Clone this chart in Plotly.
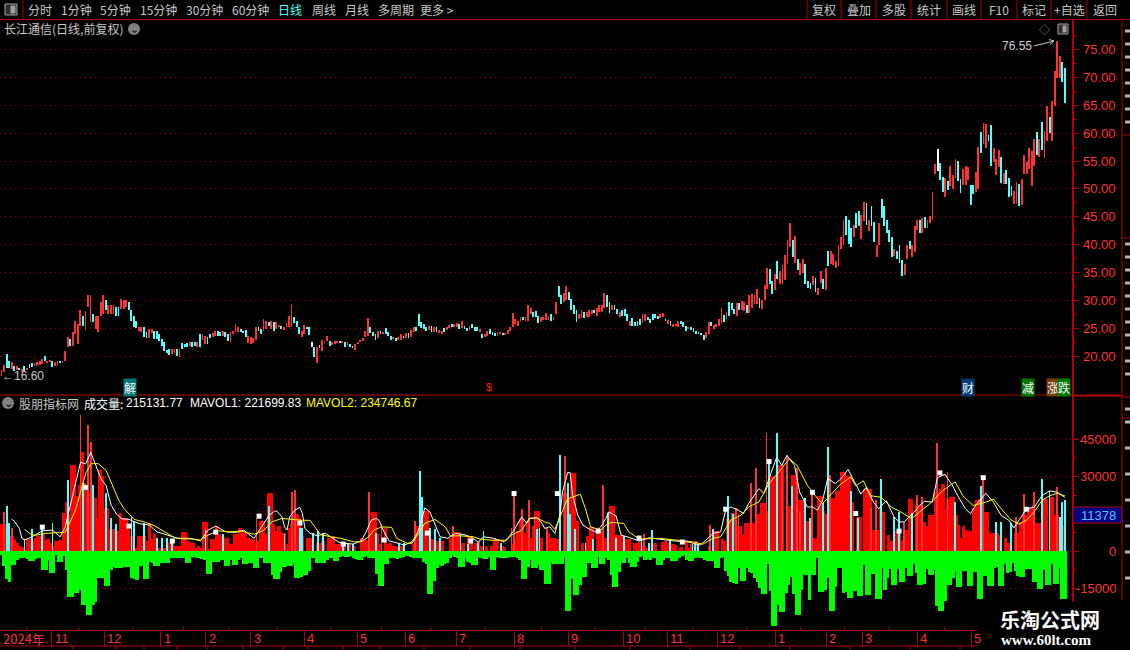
import numpy as np
import plotly.graph_objects as go

W, H = 1130, 650
RED = "#b00000"
GRID = "#a80000"
TICK_RED = "#ff3232"
CYAN = "#54ffff"
UP = "#ff3232"
CJK = "Noto Sans CJK SC"
LATIN = "Liberation Sans"
THIN = 0.33

# daily bars, low / high of each bar, u = up, d = down, f = flat
price_low = [
    16.6,17.2,18.0,18.0,17.8,17.4,17.7,17.6,17.3,17.4,
    17.6,18.0,18.2,18.3,18.4,18.6,18.8,19.2,18.9,19.1,
    18.2,18.3,18.6,18.9,19.0,19.3,21.7,22.0,22.0,24.1,
    22.3,25.5,25.6,24.8,28.9,26.2,26.2,25.0,24.4,27.4,
    27.7,28.3,27.7,27.7,27.6,27.4,27.4,28.6,28.6,28.9,
    28.3,26.4,25.3,25.1,24.6,24.4,23.5,23.4,23.4,24.2,
    23.2,23.2,22.9,22.0,21.0,20.7,20.4,20.5,20.7,20.1,
    20.0,21.4,21.7,21.8,22.0,21.8,22.0,21.8,21.8,23.0,
    22.3,22.3,23.4,23.6,23.8,23.8,23.8,23.8,23.6,22.9,
    22.7,24.1,24.4,24.4,24.4,24.2,23.5,22.4,22.3,22.4,
    23.0,24.7,24.1,24.7,25.0,25.6,25.0,24.7,25.0,
    25.4,24.9,24.8,25.3,25.3,25.3,26.0,25.3,24.0,23.6,
    24.1,24.9,23.9,21.7,19.9,18.9,21.6,21.1,22.4,22.8,
    22.0,22.2,22.3,22.6,22.4,22.6,21.8,22.0,21.8,21.5,
    21.3,22.3,22.6,22.8,23.5,23.8,24.2,23.8,23.1,23.3,
    24.0,24.0,24.1,23.8,23.1,23.2,22.9,23.1,23.1,23.3,
    23.4,23.3,23.6,24.4,24.7,25.6,25.2,25.0,24.6,24.8,
    24.5,24.4,24.5,24.2,24.0,24.5,24.8,25.2,25.4,25.4,
    25.4,24.9,25.1,25.0,24.7,24.8,25.2,24.7,24.7,24.5,
    23.4,23.5,23.7,24.0,23.9,23.8,23.8,24.0,24.0,24.0,
    24.1,24.7,25.3,25.8,25.6,26.5,26.6,26.4,26.5,27.7,
    27.1,27.1,26.0,26.2,26.6,26.6,26.6,26.5,26.6,27.6,
    30.8,29.5,29.8,30.1,30.1,28.3,27.7,26.2,26.7,27.0,
    27.0,27.1,27.1,27.7,27.9,27.4,28.0,28.0,28.8,29.0,
    27.8,28.3,28.4,27.7,27.1,27.4,27.4,26.5,25.5,25.6,
    25.6,25.6,25.7,26.0,26.5,26.6,26.0,26.6,27.0,26.8,
    26.9,27.2,26.4,25.9,25.5,25.4,25.5,25.4,25.8,25.4,
    24.7,24.9,24.8,24.4,24.1,24.0,24.0,23.1,23.3,24.1,
    25.6,25.0,25.3,25.6,
    26.1,26.2,26.7,27.4,28.3,27.6,27.3,28.4,28.3,28.2,
    27.8,27.8,28.8,29.4,29.4,28.7,28.5,30.1,32.2,33.0,
    31.3,31.9,33.9,33.0,33.1,33.7,36.6,39.6,37.8,36.9,
    35.5,34.6,35.1,33.0,32.4,32.2,32.8,31.7,31.0,33.3,
    32.2,31.9,36.2,36.6,36.4,36.0,36.2,39.4,40.1,41.8,
    40.3,39.6,41.4,43.0,43.4,41.2,44.3,43.6,42.5,43.4,
    40.5,37.8,40.1,44.8,43.4,42.1,40.5,37.8,38.0,37.6,
    36.9,34.4,34.6,37.5,39.3,37.8,38.7,42.7,42.1,42.1,
    43.0,43.0,43.9,44.5,52.7,53.3,51.6,49.5,48.6,49.9,
    50.6,50.0,52.0,51.5,49.3,50.7,50.7,51.6,47.2,49.1,
    49.5,50.1,56.5,58.1,57.4,58.7,54.2,54.9,52.5,54.0,
    51.1,50.9,50.9,48.6,48.8,47.3,47.3,47.0,47.2,52.7,
    52.7,53.6,50.6,54.2,56.1,55.8,57.0,55.6,58.7,60.1,
    58.7,65.0,70.0,70.0,69.3,65.5,
]
price_high = [
    17.6,18.6,20.5,19.3,19.0,18.3,18.3,18.0,17.8,18.3,
    18.0,18.8,18.9,18.9,19.1,19.3,19.6,20.2,19.3,19.5,
    19.3,19.0,19.2,19.2,19.3,21.1,23.5,23.2,24.5,26.4,
    25.9,28.4,27.4,28.2,31.1,31.0,27.7,27.4,27.4,29.9,
    31.1,30.1,29.2,29.2,29.3,29.0,28.9,30.4,30.2,30.1,
    29.9,28.4,27.4,26.5,25.3,25.4,25.3,24.4,25.0,25.0,
    24.7,24.6,24.1,23.2,22.6,21.3,21.4,21.4,21.4,21.4,
    21.4,22.4,22.3,22.4,22.6,22.6,22.6,22.6,24.0,24.1,
    23.8,23.5,24.1,24.2,24.7,24.6,24.4,24.6,24.4,24.1,
    24.4,24.7,25.9,25.3,25.0,24.7,24.8,23.8,23.5,23.4,
    25.3,25.3,25.0,26.8,26.4,26.2,26.5,26.2,26.2,
    25.7,25.5,25.4,26.1,27.4,29.2,27.2,26.5,25.3,24.6,
    25.7,25.4,25.4,22.7,21.8,21.8,22.2,23.1,22.9,23.8,
    22.9,22.7,22.9,22.9,22.8,22.9,22.7,22.7,22.3,22.0,
    22.3,22.7,23.0,23.3,24.7,26.9,25.3,24.5,24.0,24.7,
    24.7,24.5,25.1,24.5,23.8,23.6,23.4,23.5,24.0,23.8,
    24.2,24.2,24.8,25.4,25.4,27.6,26.2,25.8,25.3,25.6,
    25.6,25.3,25.4,24.8,24.7,25.2,25.3,25.7,25.9,25.8,
    26.0,25.8,26.5,25.6,25.2,25.6,25.8,25.3,25.3,24.9,
    24.1,24.0,24.7,24.9,24.4,24.3,24.5,24.5,24.3,24.3,
    24.8,25.4,27.8,26.7,26.4,27.2,27.1,27.1,29.3,28.7,
    28.1,28.2,27.4,27.2,27.2,27.8,27.4,27.6,27.1,29.8,
    32.6,31.1,31.4,32.7,31.7,30.4,29.2,28.4,27.6,28.4,
    28.0,28.0,28.3,28.4,28.3,28.8,29.3,29.3,31.4,31.0,
    29.8,29.2,29.3,28.6,28.0,28.3,28.5,27.6,26.5,27.0,
    26.2,26.4,26.8,27.6,27.6,27.1,26.8,27.7,27.6,27.4,
    27.7,27.8,26.8,26.6,26.5,25.9,25.9,26.4,26.5,26.2,
    25.6,25.4,25.3,25.1,24.6,24.5,24.3,23.9,24.5,26.2,
    26.3,25.7,25.9,26.7,
    28.8,27.5,28.1,29.9,29.6,28.5,29.6,29.6,30.0,29.9,
    29.2,31.0,31.2,31.0,32.2,30.6,30.1,32.8,36.0,35.7,
    33.5,34.8,37.1,35.3,36.4,38.2,40.9,43.9,41.0,41.6,
    37.5,36.9,37.5,36.7,33.5,33.3,34.4,34.2,32.4,35.3,
    33.9,36.0,38.9,38.9,38.4,37.1,40.1,41.4,44.6,45.2,
    44.6,43.0,43.7,45.7,46.1,45.4,47.7,47.5,44.5,47.0,
    44.1,40.0,43.9,48.2,47.0,44.5,42.8,41.4,39.4,38.9,
    40.0,37.3,36.7,40.1,40.7,40.0,43.4,44.5,44.6,44.8,
    45.0,44.6,45.2,49.5,54.5,57.2,54.7,52.2,52.0,51.5,
    54.2,52.5,55.4,55.1,51.8,53.6,54.2,54.0,50.7,50.7,
    53.1,57.6,60.3,61.9,61.7,59.7,61.5,57.4,55.4,57.0,
    55.8,52.9,53.4,52.0,50.6,49.7,51.3,50.9,51.8,56.1,
    55.0,57.4,56.9,59.0,60.3,59.0,62.0,60.4,65.0,63.0,
    65.8,71.3,76.55,73.9,72.8,71.8,
]
bar_dir = (
    "uuddududud" "udduuuuduu" "duuduuuduu" "uuduuuduuu" "uduuudduuu"
    "dddduudduu" "ddddddduud" "uddduddudu" "udduuddudd" "uuuuddduuu"
    "udduududu"
    "uduuuudddu" "uddfduduuu" "duuudududd" "uuuuuudddu" "duddduduud"
    "uduudddddu" "duduuduudu" "ududdudddu" "duuddduudu" "uuuuuuduuu"
    "ddduuuuduu" "dduudddduu" "duuuduuuud" "duddudddud" "ddduuddddd"
    "uududuuudd" "dudddddduu" "duuu"
    "ududdduduu" "duuuuduuud" "duduuuuudu" "duuddduduu" "duduuuuuud"
    "ddudduudud" "duudddddud" "dduuduuudu" "duuuufddud"
    "uuudduuudd" "uuduudduuu" "duddduuduu" "uuuududuud" "uuuudd"
)

# volume panel, thousands of lots: thick red body, per bar
vol_body = [
    10.7,10.7,6,6,6,4.7,3.3,2,1.6,0.7,4.7,4.7,4,5.3,6,6,6.7,4.3,4.7,3.3,2,4,4,4.3,15.3,
    19.7,14.7,34.4,34.4,22,26.7,40,27.3,25.3,23.3,26.7,21.3,13.3,32.7,30,16.7,17.3,8.7,8.7,8.7,8,15.3,13.3,13.3,8.7,
    6,1.3,1.3,6,6,6,4,11.3,4.7,6.7,1.3,1.3,1.3,1.3,0.7,3.3,2.7,2,2,2,7.7,7.7,4,3.3,3.3,
    1.1,2,1.3,11.7,11.7,0.7,4.7,4.7,10,6.7,6,5.3,5.3,2.7,2.7,6.7,6.7,9.3,7.3,7.3,5.3,4.7,4.7,3.3,4,
    12,12,6.7,23.3,23.3,10.7,8,10,7.3,
    7.3,2.7,9.3,10.7,14.7,14.7,13.3,6,0,5.1,5.3,4,0,3.3,3.3,4,0,5.3,5.3,6,2.7,2.7,3.3,3.3,0,
    2.7,0,2,0,0,5.1,4.7,4,10.7,15.7,15.7,6.7,2.7,0,9.3,2.7,3.3,2,2,1.6,2,0,0,0,0,
    2.9,10,10,8,16,16,0,4.7,4.7,4,0,4,0,0,5.3,5.3,7.7,7.7,3.3,3.3,0,6,6,0,3.3,
    4,2,0,2,0,2,5.3,4.7,0,2,1.6,0,0,2.7,4.7,8,12.9,12.9,7.3,10.7,5.3,10,16,16,5.3,
    0,0,7.3,5.3,5.1,4.9,4.7,0,23.3,23.3,
    21.3,31.3,31.3,12,0,3.3,0,6,9.6,9.6,0,8,8,0,5.3,5.3,18,18,6.4,6.4,6.4,2.7,4.7,4.7,0,
    3.3,3.3,3.7,2,2,1.3,0,3.3,3.3,0,0,3.7,4,3.3,2.7,2.7,2.4,0,1.6,0,4,1.3,2.7,0,4,
    0,0,0,0,2,0,8,8,0,4.7,4,12.7,12.7,15.3,15.3,10,10,6.7,11.3,11.3,11.3,11.3,14.7,14.7,19.3,
    19.3,16,12.7,30,30,30,34.7,34.7,0,18,18,30.7,30.7,20.7,20.7,20.7,12,12,12,5.3,4.7,22,22,16,14.7,
    19.3,21.3,21.3,24,24,31.6,31.6,
    30.3,30.3,19.7,0,13.8,13.8,0,25,25,25,8.6,8.6,8.6,17.1,15.8,0,6.6,3.9,3.7,7.9,7.9,3.9,4.6,8.6,21.1,
    21.1,0,18.4,18.4,11.8,11.8,9.9,14.5,14.5,23.7,23.7,25,27,16.4,21.1,21.7,21.7,14.5,10.5,5.3,9.9,8.6,7.9,7.9,17.1,
    20.4,21.1,15.8,15.8,15.8,7.2,7.2,7.2,7.2,6.6,0,5.3,3.3,3.3,0,7.2,7.2,11.8,14.5,14.5,15.8,17.1,18.4,11.2,11.2,
    0,21.1,21.1,0,21.7,14.5,14.5,0,10.5,0,
]
# negative green blocks, per bar
vol_neg = [
    1.6,6,11.3,12.3,5.6,5.6,3.6,2.9,2.9,2.9,3.3,3.9,3.9,3.2,2.9,2.9,7.6,7.6,3.6,8.7,8.7,1.6,4.3,4.3,1.9,
    7.6,18.3,18.3,16.9,16.9,15.6,21.9,21.9,25.6,25.6,21.9,20.3,10.9,10.9,10.7,14,14,7.6,6.3,6.9,6.9,6.9,6.5,6.5,6.3,
    10.9,11.3,11.6,5.9,5.9,11.2,11.2,4.3,4.9,5.9,5.9,4.9,4.9,4.9,4.9,2.9,2.9,2.9,2.9,2.9,2.9,4.7,4.7,2.5,2.3,
    2.9,2.9,3.2,3.6,9.2,9.2,4.3,4.3,4.3,3.6,3.6,5.9,5.9,3.6,5.6,5.6,3.6,2.9,5.2,5.2,4.7,4.7,6.7,6.7,2.9,
    2.9,4.7,4.7,4.7,9.6,11.2,11.2,8.3,6.3,6.3,
    6,6,4.9,10.7,10.7,10.3,9.6,9.6,8,2.9,2.9,4.7,4.7,4.7,4.7,3.6,2.9,2.9,3.9,3.9,2.3,1.9,2.3,2.3,1.9,
    2.9,3.2,3.6,3.6,2.3,1.9,2.7,2.9,2.9,9.2,13.9,13.9,5.2,5.2,2.9,2.9,2.9,3.2,2.9,2.5,2,2,2.3,2.7,2.7,
    2.9,2.9,4.3,5.2,17.2,17.2,12,6.9,5.6,5.9,5.2,4.9,2.9,1.6,2.5,2.9,6.3,6.3,2.9,4.3,4.9,5.6,5.6,2.3,2.9,
    3.2,3.2,2.5,7.6,7.6,2.3,2.9,2.9,2.9,2.9,2.5,2.3,2.5,2.9,3.6,11.2,11.2,6.3,3.6,6.7,6.7,5.6,7.6,7.6,13.2,
    13.2,4.3,5.2,5.2,5.2,5.2,2.9,24.3,
    24.3,11.2,17.6,17.6,13.6,10.3,10.3,4.9,4.9,6.9,6.9,2.5,5.2,5.2,2.9,3.6,9.6,14.3,14.3,8.3,4.9,4.9,2.9,4.7,6.3,
    6.3,4.3,2.3,2,3.6,3.2,3.6,2.9,2.9,5.6,5.6,3.6,2.9,2.9,4,4,4,2.9,2,1.6,3.6,3.9,3.9,2.9,2.5,
    2.9,2.9,3.6,3.9,3.9,3.9,6.9,6.9,2.9,2.5,8,10,12.5,12.9,13.2,6.9,12,12,6.9,8.3,8.7,10.9,12.3,14.9,17.2,
    17.2,5.2,15.9,30.3,30.3,21.9,24.7,24.7,16.9,13.6,10.3,17.2,25.6,25.6,15.6,9.6,9.6,19.6,9.6,9.6,2.9,16.3,16.3,15.6,10.9,
    24.3,24.3,14.3,6.9,6.9,16.9,
    16.3,18.8,18.8,16,16,17.9,17.9,5.7,17.6,17.6,9.3,9.3,19.2,19.2,6.7,15.5,11,7.4,13.7,13.7,7.4,12.6,12.6,6.7,10,
    10,5.4,8.9,13.6,13.6,13.3,7.1,9.6,9.6,7.6,22.2,24.2,24.2,19.9,13.6,13.6,10.7,8,14.3,14.3,8,8,14.2,14.2,8.4,
    8.4,19.2,19.2,10,10,14.2,14.2,6.7,6.3,14.2,14.2,5.4,8.7,8.4,5,8,10,10.4,10.4,7.4,7.4,7.4,12.6,12.6,15.3,
    15.3,7.6,13.7,13.7,5.4,13.3,13.3,7,19.2,19.2,
]
# thin volume lines: only where they stand above the body
cyan_bar = [2,3,9,12,16,20,26,32,36,41,43,45,51,52,56,61,63,65,67,80,87,105,
            111,117,118,122,124,126,134,136,138,147,156,158,164,165,168,170,172,180,183,187,189,196,210,211,219,
            222,223,225,229,232,238,241,244,251,254,255,262,271,272,273,279,285,287,301,304,310,315,317,322,324,
            333,336,345,350,352,357,374,384,390,392,396,408,411,415,416,417]
cyan_vol = [18,11.3,4.7,8.7,9.3,11.3,28.7,27.3,26.7,23.3,13.3,11,14,12,11.3,5.3,5.3,5.3,4.7,8.3,6.7,18,
            6.7,9.3,9.3,7.3,8,7.3,2.9,2.7,2.7,7.3,3.3,3.3,32,21.7,9.3,8.7,5.3,6.7,2.7,3.3,8,3.3,8.7,9.3,38.4,
            27.3,14.7,8.7,3.3,4.7,15.3,5.3,6,5.3,3.3,8.3,4.7,2.7,2.7,2.7,8.7,22,14.7,35.3,47.3,26,21.3,13.3,19.3,42,
            24.3,13.2,29,13.8,15.8,15.1,19.7,26.3,11.8,11.8,11.2,29,24.3,13.8,19.7,20.4]
red_bar = [1,4,31,34,35,100,114,115,144,149,162,177,200,201,204,207,209,214,
           221,236,252,278,288,289,294,296,300,306,308,312,313,318,325,
           341,343,354,359,361,367,371,385,398,401,405,414]
red_vol = [15.7,9.3,54.7,50.7,44,13.3,23.7,24.4,23.7,10.7,12,10,9.3,22.7,16.7,20.7,13.3,9.3,
           38,26.7,6.7,10.4,17.3,14.7,27.3,33.3,47.3,32,38.7,33.3,16,23.3,30.7,
           17.1,20.4,11.8,22.4,21.7,43.4,31.6,29.6,13.8,23,23.7,25.7]

ma1_bar = [4,5,7,8,9,12,16,20,23,25,27,29,31,33,35,37,39,41,43,45,47,50,54,58,61,65,69,74,78,81,84,88,92,95,99,102,105,107,108,
           110,111,112,113,115,117,118,119,121,124,127,129,132,134,138,141,143,145,147,148,150,152,155,158,161,163,164,166,168,170,172,
           175,178,181,184,187,189,193,197,199,201,204,206,207,210,212,213,215,217,219,
           220,222,223,224,226,228,230,233,235,237,238,241,243,246,250,254,258,263,269,274,277,279,282,284,286,289,291,293,297,299,301,
           304,306,308,311,313,316,318,320,322,324,327,
           329,332,335,337,339,342,344,347,350,352,354,358,360,362,365,367,370,373,375,378,380,382,386,389,392,395,397,400,402,405,408,411,414,417]
ma1_vol = [12.8,12,9.1,5.1,4.4,5.7,8.1,8.4,5.7,9.7,18.4,27.7,35.7,35,39.7,34.4,29,26.4,18.4,15,13,12.7,11,10.4,7.7,6.4,5.1,5.1,4.1,8.4,10,7.7,7.5,8.4,5.1,9.7,14.4,16,16,
           13.7,9.7,8.4,13.7,16.4,17.5,15.1,9.1,7.1,6.1,7.1,5.7,3.7,3.1,2.8,4,7.7,12.4,13.1,12.4,7.7,4.1,3.1,2.4,3.7,7.1,9.7,17.3,15.7,10.4,5.7,
           5.1,7.1,6.7,5.7,3.5,5.7,5.1,3.7,5.7,8.4,13.7,11.1,13.1,13.5,11.1,9.1,9.7,7.1,14.4,
           23.7,31.5,31.5,22.4,14.4,10.4,9.1,7.7,9.7,13.1,15.7,14.1,6.4,5.5,4,5.3,4.7,4.1,3.7,2.4,5.1,7.1,7.7,16.4,17.7,16.4,15.1,19.1,25.1,23.1,29.1,
           37.7,34.4,38.4,34.4,23.7,17.7,17.7,16.4,20.4,29.1,27.1,
           28.8,32.8,26.8,22.9,25.5,19.6,17,20.3,13.7,11.7,11.7,15.7,18.3,20,19.6,29.5,30.8,26.2,22.2,17,15,18.3,23.2,19.6,14.3,12.4,9.3,13.7,17,17.6,22.2,24.2,23.6,21.6]
ma2_bar = [9,12,14,17,21,25,26,29,31,33,35,38,41,43,46,48,52,56,60,64,68,71,75,78,81,85,89,94,99,103,106,110,
           113,117,121,123,125,129,133,138,141,144,146,149,153,155,159,161,163,166,170,174,176,180,185,188,193,198,200,204,207,210,213,215,217,
           219,222,224,227,229,231,235,237,239,244,246,250,258,265,271,275,279,282,286,290,293,297,301,305,309,312,316,320,322,325,
           329,333,335,338,341,345,349,352,357,360,364,369,374,377,381,386,389,392,396,399,402,405,408,411,414,417]
ma2_vol = [8.7,6.4,6.4,7.1,7.3,7.5,9.7,16.4,23.7,31.1,35.1,35.1,32.4,27.7,20.4,17.1,12.7,11.7,10.1,7.7,5.3,4.9,4.8,4.4,6.4,8.1,7.7,8,6.7,8.4,11.7,13.1,
           12.8,12.4,12.3,9.7,6.7,5.7,5.1,3.7,3.7,5.7,8.4,9.7,9.5,5.1,3.1,3.1,6.4,11.1,12.7,9.7,6.1,6.1,5.7,4.7,4.3,4.3,6.4,8.4,13.1,13.3,11.7,11.1,8.7,
           13.7,21.1,21.7,22.8,17.1,9.7,8.4,10.4,11.5,11.1,7.7,4.8,5.1,4.4,3.7,2.7,5.1,5.7,12.4,14.4,17.7,19.7,27.1,32,37.1,34.4,26.4,21.1,19.1,22.4,
           26.8,29.7,26.2,28.2,22.2,21.6,17.6,16.1,13,15.7,18.9,24.2,27.8,22.2,18.3,19.6,20.9,17,12.4,10.8,12.4,15.7,20.3,22.2,23.2,22.2]
signal_bar = [16,33,50,67,84,101,117,134,150,167,184,201,218,234,250,267,284,301,318,335,352,368,385,402]
signal_vol = [9.6,25.6,10,4,7.6,14,11.2,2.8,4.4,7.2,4,23.1,23.1,8,5.2,3.6,16.8,36,23.6,15.1,8,31.4,29.5,16.8]

month_bar = [-0.4,19.7,40.3,62.4,80,97.7,118.7,139.5,158.4,178.4,201.1,222.3,243.8,261.1,280.7,303.5,323.5,337.6,359.1,380.3]
month_text = ["2024年","11","12","1","2","3","4","5","6","7","8","9","10","11","12","1","2","3","4","5"]
price_ticks = [75,70,65,60,55,50,45,40,35,30,25,20]
vol_ticks = [45000,30000,0,-15000]
vol_grid = [45000,30000,15000,0,-15000]

period_tabs = ["分时","1分钟","5分钟","15分钟","30分钟","60分钟","日线","周线","月线","多周期","更多 >"]
period_tab_x = [40,76,115,158,204,250,290,324,357,396,437]
tool_tabs = ["复权","叠加","多股","统计","画线","F10","标记","+自选","返回"]
tool_tab_x = [824,859,894,929,964,999,1034,1069,1105]
tool_sep_x = [807,841,876,911,947,981,1017,1051,1087]
bottom_tab_x = [73,116,144,177,207,243,283,308,343,380,424,470,520,575,630,690,740,790,850,910,960]
side_rows = [31,44,57,70,83,96,109,122,244,257,270,283,296,309,322,335,348,361,374,409,422,
             448,474,500,526,552,578]


def sx(px):
    return px / W


def sy(py):
    return 1 - py / H


def label(x, y, text, color="#c8c8c8", size=12, anchor="left", font=CJK, bg=None):
    return dict(x=sx(x), y=sy(y), xref="paper", yref="paper", text=text, showarrow=False,
                xanchor=anchor, yanchor="middle", bgcolor=bg, borderpad=0,
                font=dict(family=font, size=size, color=color))


def seg(x0, y0, x1, y1, color=RED, width=1, layer="above"):
    return dict(type="line", xref="paper", yref="paper", x0=sx(x0), y0=sy(y0), x1=sx(x1), y1=sy(y1),
                line=dict(color=color, width=width), layer=layer)


def box(x0, y0, x1, y1, fill="#000000", line=None, width=1):
    return dict(type="rect", xref="paper", yref="paper", x0=sx(x0), y0=sy(y0), x1=sx(x1), y1=sy(y1),
                fillcolor=fill, line=dict(color=line or fill, width=width), layer="above")


last_bar = 417
n = len(price_low)
price_x = np.linspace(0, last_bar, n)
price_low = np.array(price_low)
price_high = np.array(price_high)
bar_colors = [{"u": UP, "d": CYAN, "f": "#ffffff"}[c] for c in bar_dir]
body_x = np.linspace(0, last_bar, len(vol_body))
neg_x = np.linspace(0, last_bar, len(vol_neg))
vol = lambda values: np.array(values) * 1000

fig = go.Figure()
fig.add_trace(go.Bar(x=price_x, base=price_low, y=price_high - price_low, width=THIN,
                     marker=dict(color=bar_colors, line_width=0), xaxis="x", yaxis="y"))
fig.add_trace(go.Bar(x=neg_x, y=-vol(vol_neg), width=1.4, marker=dict(color="#00ff00", line_width=0),
                     xaxis="x2", yaxis="y2"))
fig.add_trace(go.Bar(x=body_x, y=vol(vol_body), width=1.3, marker=dict(color="#ff0000", line_width=0),
                     xaxis="x2", yaxis="y2"))
fig.add_trace(go.Bar(x=red_bar, y=vol(red_vol), width=THIN, marker=dict(color=UP, line_width=0),
                     xaxis="x2", yaxis="y2"))
fig.add_trace(go.Bar(x=cyan_bar, y=vol(cyan_vol), width=THIN, marker=dict(color=CYAN, line_width=0),
                     xaxis="x2", yaxis="y2"))
fig.add_trace(go.Scatter(x=ma1_bar, y=vol(ma1_vol), mode="lines", line=dict(color="#ffffff", width=1),
                         xaxis="x2", yaxis="y2"))
fig.add_trace(go.Scatter(x=ma2_bar, y=vol(ma2_vol), mode="lines", line=dict(color="#ffff00", width=1),
                         xaxis="x2", yaxis="y2"))
fig.add_trace(go.Scatter(x=signal_bar, y=vol(signal_vol), mode="markers",
                         marker=dict(symbol="square", size=5, color="#ffffff", line_width=0),
                         xaxis="x2", yaxis="y2"))

x_range = [-1.5 / 2.55, (1072 - 1.5) / 2.55]
month_mid = (np.array(month_bar[:-1]) + np.array(month_bar[1:])) / 2

annotations = []
for text, x in zip(period_tabs, period_tab_x):
    annotations.append(label(x, 9.5, text, "#54ffff" if text == "日线" else "#c8c8c8", anchor="center"))
for text, x in zip(tool_tabs, tool_tab_x):
    annotations.append(label(x, 9.5, text, anchor="center"))
annotations.append(label(3, 29, "长江通信(日线,前复权)"))
annotations.append(label(134, 29, "⌄", "#000000", 11, "center", LATIN))
annotations.append(label(8, 403, "⌄", "#000000", 11, "center", LATIN))
annotations.append(label(1001, 45.5, "76.55", font=LATIN, size=12))
annotations.append(label(1, 376, "←16.60", font=LATIN, size=12))
annotations.append(label(1044.5, 29, "◇", "#909090", 11, "center"))
annotations.append(label(18, 403, "股朋指标网", size=12))
annotations.append(label(83, 403, "成交量:", "#ffffff", 12))
annotations.append(label(125, 403, "215131.77", "#ffffff", 12, font=LATIN))
annotations.append(label(189, 403, "MAVOL1: 221699.83", "#ffffff", 12, font=LATIN))
annotations.append(label(305, 403, "MAVOL2: 234746.67", "#ffff00", 12, font=LATIN))
annotations.append(label(129.5, 387, "解", "#ffffff", 12, "center", bg="#007878"))
annotations.append(label(489, 387, "$", "#ff2020", 11, "center", LATIN))
annotations.append(label(968, 387, "财", "#ffffff", 12, "center", bg="#003c78"))
annotations.append(label(1027.5, 387, "减", "#ffffff", 12, "center", bg="#007800"))
annotations.append(label(1052.5, 387, "涨", "#ffffff", 12, "center", bg="#783c00"))
annotations.append(label(1063.5, 387, "跌", "#ffffff", 12, "center", bg="#007800"))

for p in price_ticks:
    annotations.append(dict(x=sx(1118), y=p, xref="paper", yref="y", text=f"{p}.00", showarrow=False,
                            xanchor="right", font=dict(family=LATIN, size=13, color=TICK_RED)))
for v in vol_ticks:
    annotations.append(dict(x=sx(1118), y=v, xref="paper", yref="y2", text=str(v), showarrow=False,
                            xanchor="right", font=dict(family=LATIN, size=13, color=TICK_RED)))
annotations.append(label(1098, 515, "11378", "#54c8ff", 13, "center", LATIN))
for x, text in zip(month_bar, month_text):
    annotations.append(dict(x=x, y=sy(638.5), xref="x2", yref="paper", text=text, showarrow=False,
                            xanchor="left", yanchor="middle", xshift=1,
                            font=dict(family=LATIN if "年" not in text else CJK, size=13, color=TICK_RED)))
annotations.append(label(1050, 619, "<b>乐淘公式网</b>", "#ffffff", 20, "center"))
annotations.append(label(1046, 640, "<b>www.60lt.com</b>", "#ffffff", 15, "center", "Liberation Serif"))

shapes = [
    seg(0, 19.5, W, 19.5),
    seg(23, 0, 23, 19.5),
    seg(0, 395, 1072, 395),
    seg(1072, 395.5, 1122, 395.5, width=2),
    seg(1122, 19.5, 1122, 600),
    seg(1122, 135, W, 135),
    seg(1122, 238, W, 238),
    seg(1122, 397, W, 397),
    seg(1122, 418, W, 418),
    seg(0, 646, 978, 646),
    box(5, 4, 17, 15, "#303030", "#a0a0a0"),
    box(11, 6, 15, 13, "#a0a0a0"),
    box(1058, 24, 1068, 34, "#303030", "#a0a0a0"),
    box(1063, 26, 1066, 32, "#a0a0a0"),
    dict(type="circle", xref="paper", yref="paper", x0=sx(128), y0=sy(23), x1=sx(140), y1=sy(35),
         fillcolor="#808080", line_width=0, layer="above"),
    dict(type="circle", xref="paper", yref="paper", x0=sx(2), y0=sy(397), x1=sx(14), y1=sy(409),
         fillcolor="#808080", line_width=0, layer="above"),
    seg(1034, 46, 1054, 41, "#c8c8c8"),
    seg(1054, 41, 1049, 39.5, "#c8c8c8"),
    seg(1054, 41, 1050, 44.5, "#c8c8c8"),
    box(1073, 507, 1122, 523, "#000080", RED),
    box(978, 602, W, H),
]
for x in tool_sep_x:
    shapes.append(seg(x, 0, x, 19.5))
for x in bottom_tab_x:
    shapes.append(seg(x, 646, x, H))
# cut-off text stubs of the side column
for y in side_rows:
    shapes.append(seg(1125, y, W, y, "#b4b4b4", 3))

fig.update_layout(
    width=W, height=H, margin=dict(l=0, r=0, t=0, b=0),
    paper_bgcolor="#000000", plot_bgcolor="#000000",
    barmode="overlay", bargap=0, showlegend=False, hovermode=False,
    annotations=annotations, shapes=shapes,
    xaxis=dict(domain=[0, 1072 / W], range=x_range, anchor="y", visible=False),
    xaxis2=dict(domain=[0, 1072 / W], range=x_range, anchor="y2", showgrid=False, zeroline=False,
                showline=True, linecolor=RED, linewidth=1, ticks="outside", ticklen=16, tickcolor=RED,
                tickwidth=1, tickvals=month_bar[1:], showticklabels=False,
                minor=dict(tickvals=list(month_mid), ticks="inside", ticklen=3, tickcolor=RED)),
    yaxis=dict(domain=[sy(395), sy(19.5)], range=[20 + (356.3 - 395) / 5.58, 20 + (356.3 - 19.5) / 5.58],
               anchor="x", side="right", showgrid=True, gridcolor=GRID, griddash="1px,4px", gridwidth=1,
               zeroline=False, showline=True, linecolor=RED, linewidth=2, ticks="outside", ticklen=5,
               tickcolor=RED, tickvals=price_ticks, showticklabels=False,
               minor=dict(tickvals=[p + 2.5 for p in price_ticks], ticks="outside", ticklen=3, tickcolor=RED)),
    yaxis2=dict(domain=[sy(630), sy(395)], range=[(551 - 630) * 402, (551 - 395) * 402],
                anchor="x2", side="right", showgrid=True, gridcolor=GRID, griddash="1px,4px", gridwidth=1,
                zeroline=False, showline=True, linecolor=RED, linewidth=2, ticks="outside", ticklen=5,
                tickcolor=RED, tickvals=vol_grid, showticklabels=False,
                minor=dict(tickvals=[37500, 22500, 7500, -7500], ticks="outside", ticklen=3, tickcolor=RED)),
)

fig.write_html("out.html", config=dict(displayModeBar=False),
               post_script="document.body.style.margin='0';")
